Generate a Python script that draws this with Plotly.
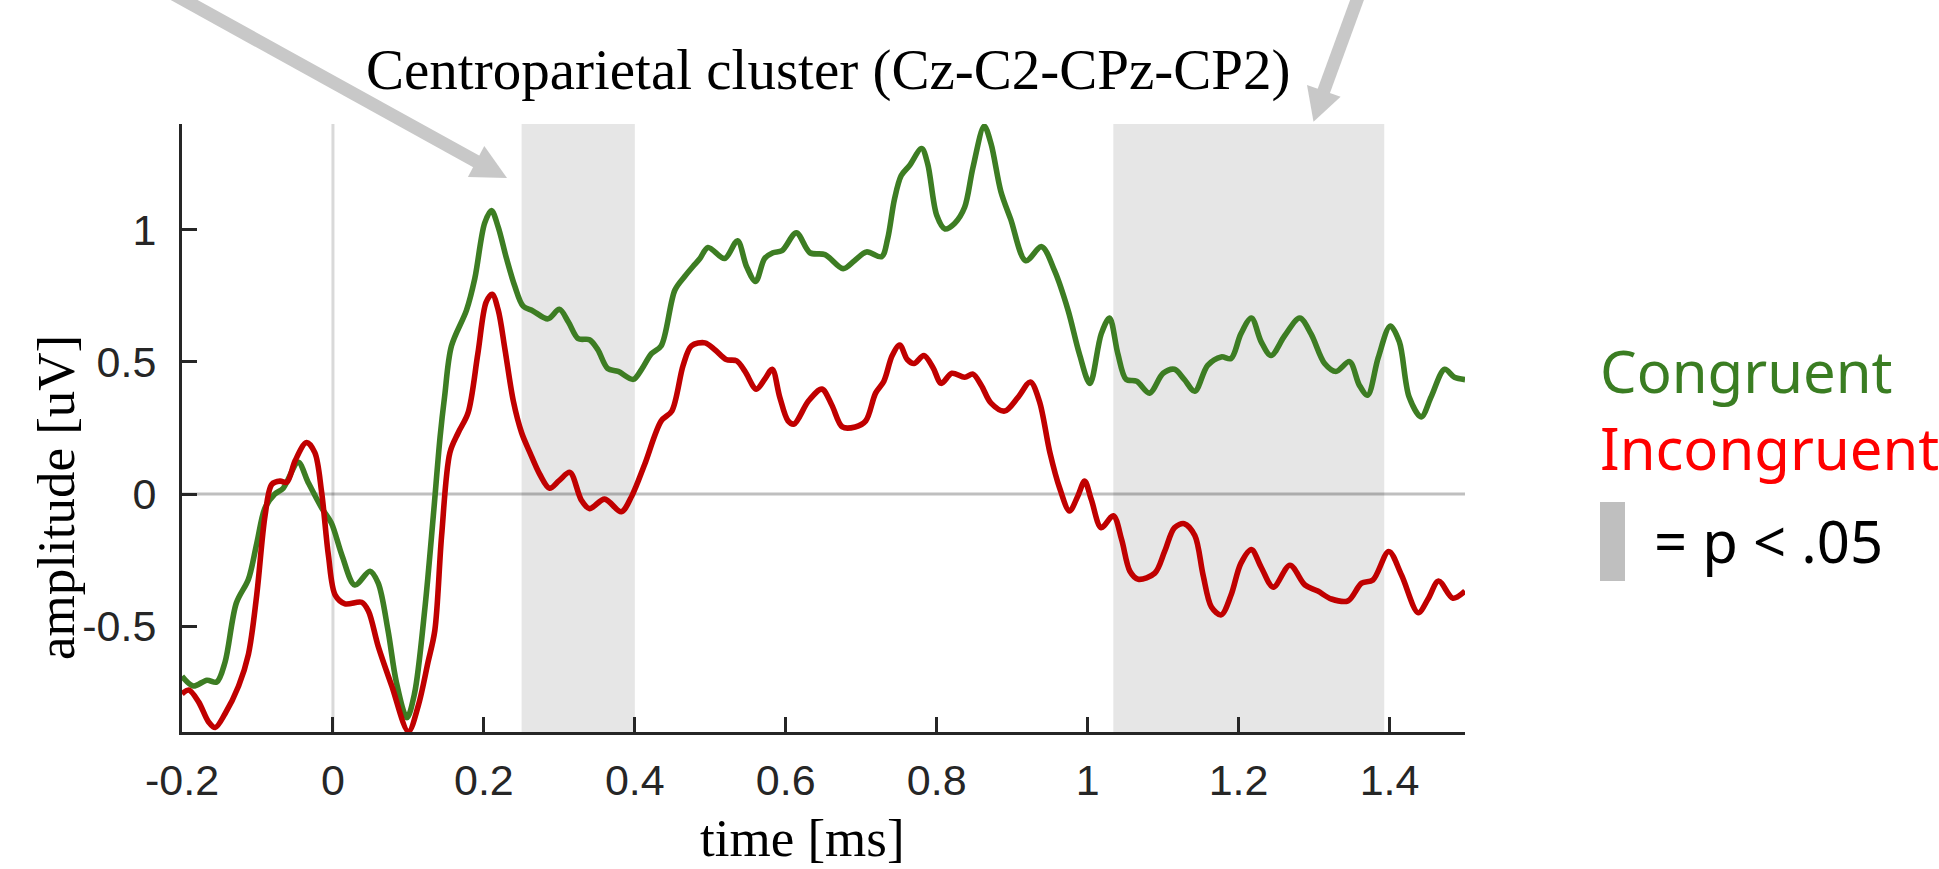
import plotly.graph_objects as go

# ---------------- data ----------------
time_congruent = [
    -0.200, -0.185, -0.167, -0.154, -0.143, -0.128, -0.112, -0.101, -0.090, -0.077,
    -0.066, -0.046, -0.033, -0.015, -0.002, 0.012, 0.029, 0.049, 0.060, 0.073,
    0.084, 0.098, 0.108, 0.122, 0.133, 0.142, 0.148, 0.157, 0.177, 0.188,
    0.201, 0.210, 0.219, 0.230, 0.241, 0.252, 0.265, 0.285, 0.300, 0.312,
    0.325, 0.340, 0.351, 0.364, 0.378, 0.398, 0.409, 0.422, 0.435, 0.453,
    0.466, 0.477, 0.486, 0.497, 0.519, 0.536, 0.548, 0.560, 0.572, 0.583,
    0.595, 0.614, 0.632, 0.652, 0.676, 0.691, 0.707, 0.727, 0.735, 0.744,
    0.753, 0.764, 0.780, 0.788, 0.800, 0.811, 0.824, 0.837, 0.848, 0.863,
    0.872, 0.885, 0.898, 0.918, 0.939, 0.956, 0.974, 0.989, 1.003, 1.018,
    1.029, 1.040, 1.051, 1.065, 1.082, 1.100, 1.115, 1.128, 1.142, 1.159,
    1.177, 1.190, 1.203, 1.217, 1.230, 1.243, 1.261, 1.281, 1.296, 1.314,
    1.329, 1.347, 1.360, 1.371, 1.385, 1.401, 1.413, 1.426, 1.442, 1.455,
    1.473, 1.486, 1.500,
]
amp_congruent = [
    -0.689, -0.726, -0.704, -0.711, -0.636, -0.412, -0.322, -0.187, -0.052, 0.000,
    0.022, 0.120, 0.045, -0.052, -0.110, -0.232, -0.344, -0.292, -0.337, -0.516,
    -0.711, -0.846, -0.756, -0.427, -0.082, 0.217, 0.370, 0.560, 0.696, 0.816,
    1.025, 1.073, 1.010, 0.891, 0.786, 0.711, 0.693, 0.663, 0.699, 0.651,
    0.588, 0.584, 0.546, 0.475, 0.464, 0.434, 0.472, 0.531, 0.561, 0.771,
    0.823, 0.861, 0.890, 0.933, 0.891, 0.958, 0.861, 0.804, 0.891, 0.913,
    0.921, 0.988, 0.913, 0.906, 0.853, 0.883, 0.916, 0.898, 0.966, 1.115,
    1.205, 1.243, 1.307, 1.250, 1.055, 1.003, 1.025, 1.085, 1.235, 1.392,
    1.325, 1.145, 1.040, 0.883, 0.936, 0.846, 0.696, 0.531, 0.419, 0.606,
    0.666, 0.531, 0.434, 0.427, 0.382, 0.457, 0.472, 0.434, 0.389, 0.487,
    0.519, 0.513, 0.606, 0.666, 0.576, 0.524, 0.599, 0.666, 0.606, 0.494,
    0.464, 0.501, 0.412, 0.374, 0.516, 0.636, 0.576, 0.367, 0.292, 0.367,
    0.472, 0.442, 0.433,
]

time_incongruent = [
    -0.200, -0.191, -0.178, -0.165, -0.156, -0.143, -0.125, -0.112, -0.101, -0.090,
    -0.081, -0.070, -0.061, -0.050, -0.035, -0.024, -0.015, -0.006, 0.003, 0.016,
    0.038, 0.047, 0.060, 0.078, 0.100, 0.113, 0.126, 0.135, 0.144, 0.155,
    0.166, 0.179, 0.192, 0.203, 0.211, 0.219, 0.228, 0.239, 0.250, 0.261,
    0.274, 0.287, 0.300, 0.314, 0.329, 0.340, 0.360, 0.382, 0.396, 0.413,
    0.435, 0.449, 0.464, 0.475, 0.493, 0.506, 0.521, 0.535, 0.546, 0.561,
    0.572, 0.582, 0.592, 0.603, 0.611, 0.630, 0.648, 0.661, 0.675, 0.692,
    0.706, 0.719, 0.730, 0.741, 0.751, 0.761, 0.770, 0.783, 0.795, 0.806,
    0.820, 0.837, 0.848, 0.859, 0.872, 0.890, 0.908, 0.924, 0.936, 0.950,
    0.963, 0.976, 0.987, 0.996, 1.005, 1.018, 1.034, 1.045, 1.056, 1.067,
    1.089, 1.102, 1.115, 1.128, 1.142, 1.153, 1.164, 1.177, 1.190, 1.203,
    1.217, 1.230, 1.246, 1.268, 1.288, 1.305, 1.323, 1.345, 1.363, 1.378,
    1.399, 1.416, 1.438, 1.451, 1.465, 1.484, 1.500,
]
amp_incongruent = [
    -0.756, -0.741, -0.786, -0.861, -0.883, -0.831, -0.726, -0.606, -0.382, -0.082,
    0.037, 0.049, 0.045, 0.127, 0.195, 0.157, 0.007, -0.232, -0.382, -0.415,
    -0.409, -0.442, -0.576, -0.726, -0.898, -0.801, -0.636, -0.516, -0.157, 0.157,
    0.232, 0.307, 0.531, 0.726, 0.756, 0.696, 0.546, 0.352, 0.232, 0.157,
    0.075, 0.022, 0.052, 0.082, -0.022, -0.055, -0.019, -0.067, -0.007, 0.112,
    0.277, 0.314, 0.487, 0.561, 0.572, 0.546, 0.509, 0.504, 0.464, 0.397,
    0.434, 0.472, 0.367, 0.277, 0.265, 0.352, 0.397, 0.337, 0.254, 0.254,
    0.277, 0.382, 0.427, 0.524, 0.564, 0.509, 0.494, 0.524, 0.479, 0.419,
    0.457, 0.442, 0.454, 0.412, 0.344, 0.314, 0.367, 0.424, 0.352, 0.157,
    0.022, -0.064, -0.007, 0.049, -0.022, -0.127, -0.082, -0.172, -0.292, -0.322,
    -0.299, -0.217, -0.127, -0.112, -0.157, -0.307, -0.427, -0.457, -0.382, -0.262,
    -0.210, -0.277, -0.352, -0.269, -0.344, -0.367, -0.397, -0.404, -0.337, -0.325,
    -0.217, -0.307, -0.449, -0.397, -0.329, -0.394, -0.367,
]

sig_windows = [(0.25, 0.40), (1.034, 1.393)]

x_tickvals = [-0.2, 0, 0.2, 0.4, 0.6, 0.8, 1.0, 1.2, 1.4]
x_ticktext = ["-0.2", "0", "0.2", "0.4", "0.6", "0.8", "1", "1.2", "1.4"]
y_tickvals = [-0.5, 0, 0.5, 1]
y_ticktext = ["-0.5", "0", "0.5", "1"]

title_text = "Centroparietal cluster (Cz-C2-CPz-CP2)"
series_names = ["Congruent", "Incongruent"]
sig_label = "= p < .05"

# ---------------- layout geometry ----------------
W, H = 1939, 869
L, R, T, B = 182, 474, 124, 137
PW, PH = W - L - R, H - T - B


def px(x):
    return (x - L) / PW


def py(y):
    return (H - B - y) / PH


GREEN = "#3d7d23"
RED = "#c00000"
AXC = "#262626"
ARROW = "#c8c8c8"

fig = go.Figure()
fig.add_trace(go.Scatter(x=time_congruent, y=amp_congruent, mode="lines",
                         line=dict(color=GREEN, width=5.6, shape="spline", smoothing=0.9),
                         name=series_names[0]))
fig.add_trace(go.Scatter(x=time_incongruent, y=amp_incongruent, mode="lines",
                         line=dict(color=RED, width=5.6, shape="spline", smoothing=0.9),
                         name=series_names[1]))

shapes = []
for a, b in sig_windows:
    shapes.append(dict(type="rect", xref="x", yref="paper", x0=a, x1=b, y0=0, y1=1,
                       fillcolor="#e6e6e6", line=dict(width=0), layer="below"))
shapes.append(dict(type="line", xref="x", yref="paper", x0=0, x1=0, y0=0, y1=1,
                   line=dict(color="#d9d9d9", width=3), layer="below"))
shapes.append(dict(type="line", xref="paper", yref="y", x0=0, x1=1, y0=0, y1=0,
                   line=dict(color="rgba(0,0,0,0.25)", width=3), layer="below"))

# arrows (decoration)
arrows = [
    dict(tail=(157, -15), shaft_end=(480, 163.5), tip=(507, 178),
         c1=(467.9, 177.1), c2=(484.3, 146.1)),
    dict(tail=(1362.5, -15), shaft_end=(1322.5, 94.5), tip=(1313.5, 121.7),
         c1=(1307, 85), c2=(1340.6, 96.7)),
]
for a in arrows:
    shapes.append(dict(type="line", xref="paper", yref="paper",
                       x0=px(a["tail"][0]), y0=py(a["tail"][1]),
                       x1=px(a["shaft_end"][0]), y1=py(a["shaft_end"][1]),
                       line=dict(color=ARROW, width=13), layer="above"))
    pts = [a["tip"], a["c1"], a["c2"]]
    path = "M {} {} L {} {} L {} {} Z".format(*[v for p in pts for v in (px(p[0]), py(p[1]))])
    shapes.append(dict(type="path", xref="paper", yref="paper", path=path,
                       fillcolor=ARROW, line=dict(width=0), layer="above"))

# legend swatch
shapes.append(dict(type="rect", xref="paper", yref="paper",
                   x0=px(1600), x1=px(1625), y0=py(581), y1=py(502),
                   fillcolor="#bfbfbf", line=dict(width=0)))

annotations = [
    dict(text=title_text, xref="paper", yref="paper", x=px(828), y=py(70),
         xanchor="center", yanchor="middle", showarrow=False,
         font=dict(family="Liberation Serif, Times New Roman, serif", size=57, color="black")),
    dict(text="amplitude [uV]", xref="paper", yref="paper", x=px(56), y=py(498),
         xanchor="center", yanchor="middle", showarrow=False, textangle=-90,
         font=dict(family="Liberation Serif, Times New Roman, serif", size=53, color="black")),
    dict(text="time [ms]", xref="paper", yref="paper", x=px(802), y=py(838),
         xanchor="center", yanchor="middle", showarrow=False,
         font=dict(family="Liberation Serif, Times New Roman, serif", size=53, color="black")),
    dict(text=series_names[0], xref="paper", yref="paper", x=px(1598), y=py(370.5),
         xanchor="left", yanchor="middle", showarrow=False,
         font=dict(family="Noto Sans, Open Sans, sans-serif", size=58, color="#3a7d22")),
    dict(text=series_names[1], xref="paper", yref="paper", x=px(1598), y=py(447.5),
         xanchor="left", yanchor="middle", showarrow=False,
         font=dict(family="Noto Sans, Open Sans, sans-serif", size=58, color="#ff0000")),
    dict(text=sig_label, xref="paper", yref="paper", x=px(1652), y=py(540.5),
         xanchor="left", yanchor="middle", showarrow=False,
         font=dict(family="Noto Sans, Open Sans, sans-serif", size=58, color="black")),
]

tickfont = dict(family="Liberation Sans, Arial, sans-serif", size=43, color=AXC)
fig.update_layout(
    width=W, height=H,
    margin=dict(l=L, r=R, t=T, b=B, pad=0),
    paper_bgcolor="white", plot_bgcolor="white",
    showlegend=False,
    shapes=shapes, annotations=annotations,
    xaxis=dict(range=[-0.2, 1.5], tickmode="array", tickvals=x_tickvals, ticktext=x_ticktext,
               ticks="inside", ticklen=15, tickwidth=2.5, tickcolor=AXC,
               showline=True, linecolor=AXC, linewidth=3, showgrid=False, zeroline=False,
               tickfont=tickfont, ticklabelstandoff=8),
    yaxis=dict(range=[-0.9, 1.4], tickmode="array", tickvals=y_tickvals, ticktext=y_ticktext,
               ticks="inside", ticklen=15, tickwidth=2.5, tickcolor=AXC,
               showline=True, linecolor=AXC, linewidth=3, showgrid=False, zeroline=False,
               tickfont=tickfont, ticklabelstandoff=14),
)

fig.write_html("out.html")
